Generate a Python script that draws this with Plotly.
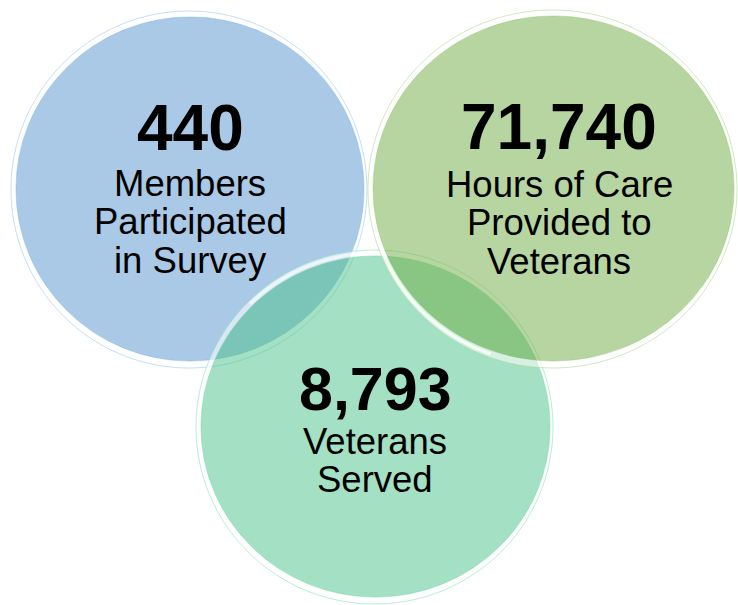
import numpy as np
import plotly.graph_objects as go

# ---- data ----
stat_values = [440, 71740, 8793]
stat_lines = [
    ["Members", "Participated", "in Survey"],
    ["Hours of Care", "Provided to", "Veterans"],
    ["Veterans", "Served"],
]

# ---- layout of the three bubbles (pixel space, y downward) ----
W, H = 738, 605
bubble_bounds = [  # x0, x1, y0, y1
    (11, 367, 11, 368),
    (368, 737, 10, 368),
    (196, 553, 250, 604),
]
bubble_fill = [
    "rgba(85,147,205,0.5)",
    "rgba(111,171,65,0.5)",
    "rgba(73,193,137,0.5)",
]
bubble_edge = [
    "rgba(150,195,235,0.55)",
    "rgba(170,215,140,0.55)",
    "rgba(140,225,190,0.6)",
]
# draw order: blue, teal, green
draw_order = [0, 2, 1]
number_y = [128, 127, 389]
number_size = [64, 64, 61]
line_y0 = [183, 184, 441]
line_step = 38.5
text_cx = [190, 559, 375]
label_size = 36.5


def ellipse_pts(x0, x1, y0, y1, n=180, reverse=False):
    t = np.linspace(0, 2 * np.pi, n, endpoint=False)
    if reverse:
        t = t[::-1]
    cx, cy = (x0 + x1) / 2, (y0 + y1) / 2
    rx, ry = (x1 - x0) / 2, (y1 - y0) / 2
    return cx + rx * np.cos(t), cy + ry * np.sin(t)


def poly_path(xs, ys):
    s = f"M {xs[0]:.2f},{ys[0]:.2f} "
    s += " ".join(f"L {x:.2f},{y:.2f}" for x, y in zip(xs[1:], ys[1:]))
    return s + " Z"


def arc_path(x0, x1, y0, y1, a0, a1, n=60):
    t = np.radians(np.linspace(a0, a1, n))
    cx, cy = (x0 + x1) / 2, (y0 + y1) / 2
    rx, ry = (x1 - x0) / 2, (y1 - y0) / 2
    xs, ys = cx + rx * np.cos(t), cy + ry * np.sin(t)
    s = f"M {xs[0]:.2f},{ys[0]:.2f} "
    return s + " ".join(f"L {x:.2f},{y:.2f}" for x, y in zip(xs[1:], ys[1:]))


shapes = []
for i in draw_order:
    x0, x1, y0, y1 = bubble_bounds[i]
    ix0, ix1, iy0, iy1 = x0 + 5, x1 - 3, y0 + 6, y1 - 7
    # glossy rim: ring between outer edge and inner disc
    ox, oy = ellipse_pts(x0, x1, y0, y1)
    inx, iny = ellipse_pts(ix0, ix1, iy0, iy1, reverse=True)
    shapes.append(dict(
        type="path", xref="x", yref="y", layer="above",
        path=poly_path(ox, oy) + " " + poly_path(inx, iny),
        fillcolor="rgba(255,255,255,0.55)",
        line=dict(color=bubble_edge[i], width=1),
    ))
    # main disc
    shapes.append(dict(
        type="circle", xref="x", yref="y", layer="above",
        x0=ix0, x1=ix1, y0=iy0, y1=iy1,
        fillcolor=bubble_fill[i], line=dict(width=0),
    ))
    # highlights on the rim
    mx0, mx1, my0, my1 = x0 + 2.5, x1 - 1.5, y0 + 3, y1 - 3.5
    shapes.append(dict(
        type="path", xref="x", yref="y", layer="above",
        path=arc_path(mx0, mx1, my0, my1, 110, 200),
        line=dict(color="rgba(255,255,255,0.75)", width=3),
    ))
    shapes.append(dict(
        type="path", xref="x", yref="y", layer="above",
        path=arc_path(mx0, mx1, my0, my1, 225, 315),
        line=dict(color="rgba(255,255,255,0.6)", width=3),
    ))

annotations = []
for i, v in enumerate(stat_values):
    annotations.append(dict(
        x=text_cx[i], y=number_y[i], xref="x", yref="y",
        text=f"<b>{v:,}</b>", showarrow=False,
        xanchor="center", yanchor="middle",
        font=dict(family="Liberation Sans, Arial, sans-serif",
                  size=number_size[i], color="black"),
    ))
    for k, line in enumerate(stat_lines[i]):
        annotations.append(dict(
            x=text_cx[i], y=line_y0[i] + k * line_step, xref="x", yref="y",
            text=line, showarrow=False,
            xanchor="center", yanchor="middle",
            font=dict(family="Liberation Sans, Arial, sans-serif",
                      size=label_size, color="black"),
        ))

fig = go.Figure()
fig.add_trace(go.Scatter(x=[0, W], y=[0, H], mode="markers",
                         marker=dict(opacity=0), hoverinfo="skip",
                         showlegend=False))
fig.update_layout(
    width=W, height=H,
    margin=dict(l=0, r=0, t=0, b=0),
    paper_bgcolor="white", plot_bgcolor="white",
    xaxis=dict(range=[0, W], visible=False, fixedrange=True),
    yaxis=dict(range=[H, 0], visible=False, fixedrange=True),
    shapes=shapes, annotations=annotations,
    showlegend=False,
)
fig.write_html("out.html")
